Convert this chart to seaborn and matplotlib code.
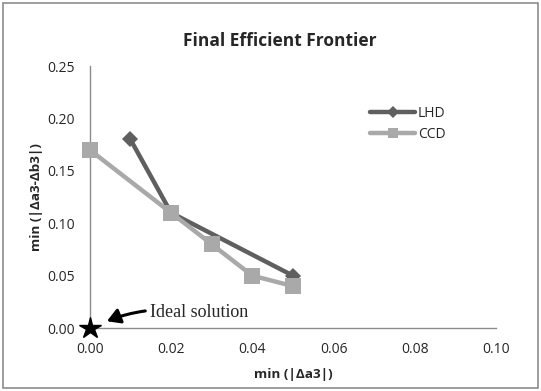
import matplotlib
matplotlib.use("Agg")
import matplotlib.pyplot as plt
import seaborn as sns
import pandas as pd
from matplotlib.patches import Rectangle

lhd_x = [0.01, 0.02, 0.05]
lhd_y = [0.18, 0.11, 0.05]
ccd_x = [0.00, 0.02, 0.03, 0.04, 0.05]
ccd_y = [0.17, 0.11, 0.08, 0.05, 0.04]
x_ticks = [0.00, 0.02, 0.04, 0.06, 0.08, 0.10]
y_ticks = [0.00, 0.05, 0.10, 0.15, 0.20, 0.25]

sns.set_style("white")
plt.rcParams['font.family'] = ['Open Sans', 'DejaVu Sans']

fig = plt.figure(figsize=(5.41, 3.91), dpi=100)
ax = fig.add_axes([0.166, 0.161, 0.751, 0.670])

lhd = pd.DataFrame({"x": lhd_x, "y": lhd_y})
ccd = pd.DataFrame({"x": ccd_x, "y": ccd_y})
sns.lineplot(data=lhd, x="x", y="y", ax=ax, color="#5f5f5f", lw=3.2,
             marker="D", markersize=8, markeredgewidth=0, label="LHD", clip_on=False, zorder=3)
sns.lineplot(data=ccd, x="x", y="y", ax=ax, color="#a9a9a9", lw=3.2,
             marker="s", markersize=11, markeredgewidth=0, label="CCD", clip_on=False, zorder=4)
ax.plot([0], [0], marker="*", color="black", markersize=16, clip_on=False, zorder=5, ls="none")

ax.annotate("Ideal solution", xy=(0.0042, 0.0065), xytext=(0.0148, 0.0145),
            fontsize=13, family="Liberation Serif", va="center",
            arrowprops=dict(arrowstyle="-|>,head_length=0.6,head_width=0.35",
                            color="black", lw=2.2, connectionstyle="arc3,rad=0.15",
                            shrinkA=1, shrinkB=0))

ax.set_xlim(0, 0.10)
ax.set_ylim(0, 0.25)
ax.set_xticks(x_ticks)
ax.set_yticks(y_ticks)
ax.set_xticklabels([f"{v:.2f}" for v in x_ticks], fontsize=10)
ax.set_yticklabels([f"{v:.2f}" for v in y_ticks], fontsize=10)
ax.tick_params(axis="x", length=0, pad=10)
ax.tick_params(axis="y", length=0, pad=11)
for s in ["top", "right"]:
    ax.spines[s].set_visible(False)
for s in ["left", "bottom"]:
    ax.spines[s].set_color("#8c8c8c")
    ax.spines[s].set_linewidth(1.0)
ax.set_xlabel("min (|Δa3|)", fontsize=9.7, fontweight="bold", labelpad=8)
ax.set_ylabel("min (|Δa3-Δb3|)", fontsize=9.7, fontweight="bold", labelpad=3)
fig.text(0.517, 0.895, "Final Efficient Frontier", ha="center", va="center",
         fontsize=12.5, fontweight="bold")

leg = ax.legend(loc="upper left", bbox_to_anchor=(0.66, 0.895), frameon=False,
                fontsize=10, handlelength=3.2, labelspacing=0.45, handletextpad=0.2)
for h in leg.legend_handles:
    h.set_markersize(6.5)

fig.patches.append(Rectangle((0.006, 0.008), 0.988, 0.984, transform=fig.transFigure,
                             fill=False, edgecolor="#8c8c8c", lw=1.2))
fig.savefig("out.png", dpi=100)
